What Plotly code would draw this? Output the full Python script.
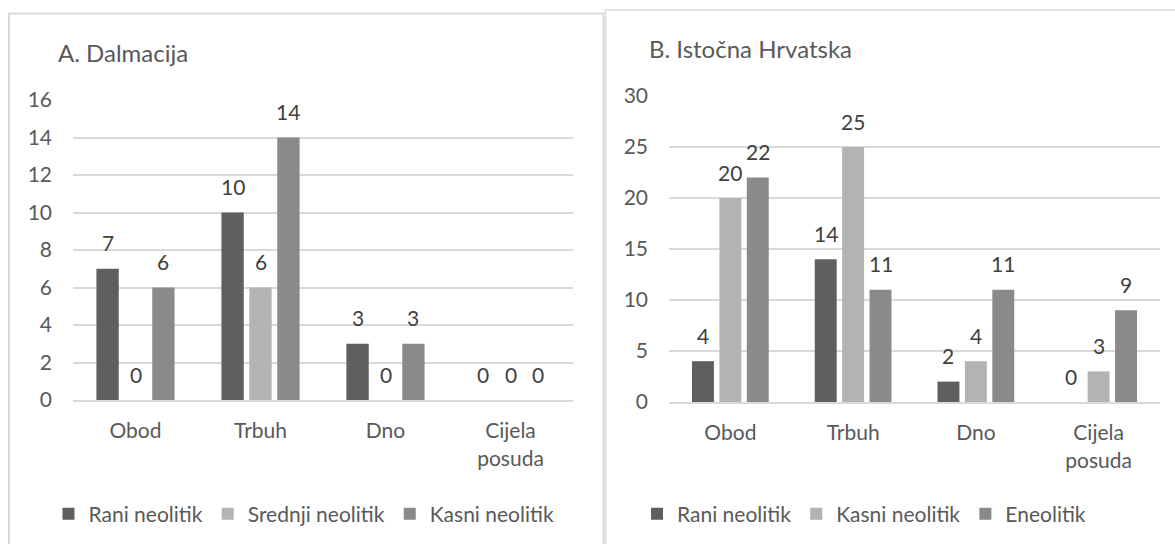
import plotly.graph_objects as go

# Categories (vessel parts) shared by both panels
categories = ["Obod", "Trbuh", "Dno", "Cijela<br>posuda"]

# A. Dalmacija
dal_names = ["Rani neolitik", "Srednji neolitik", "Kasni neolitik"]
dal_rani = [7, 10, 3, 0]
dal_srednji = [0, 6, 0, 0]
dal_kasni = [6, 14, 3, 0]

# B. Istočna Hrvatska
ist_names = ["Rani neolitik", "Kasni neolitik", "Eneolitik"]
ist_rani = [4, 14, 2, 0]
ist_kasni = [20, 25, 4, 3]
ist_eneo = [22, 11, 11, 9]

colors = ["#5f5f5f", "#b3b3b3", "#8a8a8a"]
FONT = "Lato"
W, H = 1175, 544
GRID = "#d9d9d9"
TXT = "#595959"
LBL = "#404040"
FS = 21

BARGAP = 0.33
GROUPGAP = 0.2


def px_x(p):
    return p / W


def px_y(p):
    return 1 - p / H


fig = go.Figure()

panels = [
    dict(series=[dal_rani, dal_srednji, dal_kasni], names=dal_names,
         xa="x", ya="y", legend="legend", xdom=(73, 573), ydom=(400, 100),
         yrange=16, dtick=2),
    dict(series=[ist_rani, ist_kasni, ist_eneo], names=ist_names,
         xa="x2", ya="y2", legend="legend2", xdom=(669, 1160), ydom=(402, 96),
         yrange=30, dtick=5),
]

annotations = []
for p in panels:
    n = len(p["series"])
    cat_w = (p["xdom"][1] - p["xdom"][0]) / len(categories)
    slot = cat_w * (1 - BARGAP) / n
    for i, (vals, name) in enumerate(zip(p["series"], p["names"])):
        fig.add_trace(go.Bar(
            x=categories, y=vals, name=name,
            marker=dict(color=colors[i], line=dict(width=0)),
            xaxis=p["xa"], yaxis=p["ya"], legend=p["legend"],
            hoverinfo="skip",
        ))
        shift = (i - (n - 1) / 2) * slot
        for c, v in zip(categories, vals):
            annotations.append(dict(
                x=c, y=v, xref=p["xa"], yref=p["ya"], text=str(v),
                showarrow=False, xshift=shift, yshift=26,
                yanchor="middle", xanchor="center",
                font=dict(family=FONT, size=FS, color=LBL),
            ))

# Panel titles
annotations.append(dict(x=px_x(56), y=px_y(52), xref="paper", yref="paper",
                        text="A. Dalmacija", showarrow=False, xanchor="left",
                        yanchor="middle", font=dict(family=FONT, size=24, color=TXT)))
annotations.append(dict(x=px_x(647), y=px_y(48), xref="paper", yref="paper",
                        text="B. Istočna Hrvatska", showarrow=False, xanchor="left",
                        yanchor="middle", font=dict(family=FONT, size=24, color=TXT)))

# Chart-area frames
shapes = [
    dict(type="rect", xref="paper", yref="paper",
         x0=px_x(9), x1=px_x(603.5), y0=px_y(570), y1=px_y(13.5),
         line=dict(color=GRID, width=2), fillcolor="rgba(0,0,0,0)", layer="below"),
    dict(type="rect", xref="paper", yref="paper",
         x0=px_x(605.5), x1=px_x(1200), y0=px_y(570), y1=px_y(10),
         line=dict(color=GRID, width=1.5), fillcolor="rgba(0,0,0,0)", layer="below"),
]

axis_font = dict(family=FONT, size=FS, color=TXT)
layout = dict(
    width=W, height=H,
    margin=dict(l=0, r=0, t=0, b=0, autoexpand=False),
    paper_bgcolor="white", plot_bgcolor="white",
    barmode="group", bargap=BARGAP, bargroupgap=GROUPGAP,
    font=dict(family=FONT, color=TXT),
    annotations=annotations, shapes=shapes,
)

for k, p in enumerate(panels):
    sx = "" if k == 0 else "2"
    layout["xaxis" + sx] = dict(
        domain=[px_x(p["xdom"][0]), px_x(p["xdom"][1])],
        anchor="y" + sx, type="category",
        showline=True, linecolor=GRID, linewidth=2,
        showgrid=False, ticks="", tickfont=axis_font,
        ticklabelstandoff=11, fixedrange=True, automargin=False,
    )
    layout["yaxis" + sx] = dict(
        domain=[px_y(p["ydom"][0]), px_y(p["ydom"][1])],
        anchor="x" + sx, range=[0, p["yrange"]], dtick=p["dtick"],
        showgrid=True, gridcolor=GRID, gridwidth=2,
        zeroline=False, showline=False, ticks="",
        tickfont=axis_font, ticklabelstandoff=20, fixedrange=True,
        automargin=False,
    )

legend_common = dict(
    orientation="h", xanchor="center", y=px_y(514), yanchor="middle",
    font=dict(family=FONT, size=FS, color=TXT), bgcolor="rgba(0,0,0,0)",
    itemclick=False, itemdoubleclick=False, itemwidth=30,
)
layout["legend"] = dict(x=px_x(304), **legend_common)
layout["legend2"] = dict(x=px_x(864), **legend_common)

fig.update_layout(**layout)
fig.write_html("out.html", config=dict(displayModeBar=False))
